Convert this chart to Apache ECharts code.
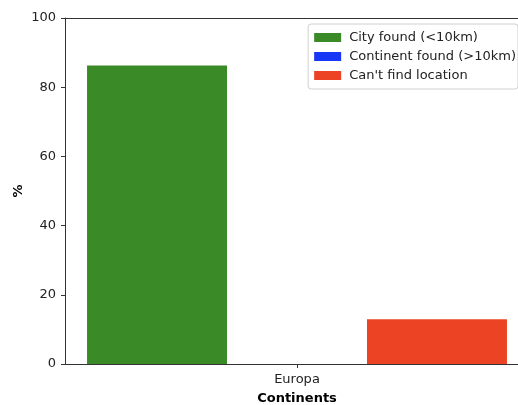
<!DOCTYPE html>
<html>
<head>
<meta charset="utf-8">
<script src="https://cdn.jsdelivr.net/npm/echarts@6/dist/echarts.min.js"></script>
<style>
  html, body { margin: 0; padding: 0; background: #fff; }
  #main { width: 518px; height: 405px; }
</style>
</head>
<body>
<div id="main"></div>
<script>
// data
const categories = ['Europa'];
const seriesNames = ['City found (<10km)', 'Continent found (>10km)', "Can't find location"];
const cityFound = [86.3];
const continentFound = [0];
const notFound = [12.9];
const colors = ['#3a8a28', '#1836f5', '#ec4324'];

const font = 'DejaVu Sans';
const myChart = echarts.init(document.getElementById('main'));

const mkSeries = (name, data, color) => ({
  name: name,
  type: 'bar',
  data: data,
  barGap: '0%',
  barCategoryGap: '9.5%',
  itemStyle: { color: color },
});

myChart.setOption({
  animation: false,
  textStyle: { fontFamily: font },
  grid: { left: 65, right: -11, top: 18, bottom: 41, containLabel: false, outerBoundsMode: 'none' },
  legend: {
    orient: 'vertical',
    right: 0,
    top: 24,
    itemWidth: 27,
    itemHeight: 9,
    itemGap: 6,
    padding: [7, 2, 7, 6],
    borderColor: '#d0d0d0',
    borderWidth: 1,
    borderRadius: 3,
    backgroundColor: '#fff',
    textStyle: { fontFamily: font, fontSize: 13, color: '#222', padding: [0, 0, 0, 3] },
    icon: 'rect',
    data: seriesNames,
  },
  xAxis: [{
    type: 'category',
    data: categories,
    name: 'Continents',
    nameLocation: 'middle',
    nameGap: 28,
    nameMoveOverlap: false,
    nameTextStyle: { fontFamily: font, fontSize: 13, fontWeight: 'bold', color: '#000' },
    axisLine: { lineStyle: { color: '#333', width: 1 } },
    axisTick: { show: true, alignWithLabel: true, length: 4, lineStyle: { color: '#333' } },
    axisLabel: { fontFamily: font, fontSize: 13, color: '#222', margin: 9 },
  }, {
    type: 'category',
    data: categories,
    position: 'top',
    axisLine: { show: true, lineStyle: { color: '#333', width: 1 } },
    axisTick: { show: false },
    axisLabel: { show: false },
  }],
  yAxis: {
    type: 'value',
    min: 0,
    max: 100,
    interval: 20,
    name: '%',
    nameLocation: 'middle',
    nameGap: 40,
    nameMoveOverlap: false,
    nameRotate: 90,
    nameTextStyle: { fontFamily: font, fontSize: 13, fontWeight: 'bold', color: '#000' },
    axisLine: { show: true, lineStyle: { color: '#333', width: 1 } },
    axisTick: { show: true, length: 4, lineStyle: { color: '#333' } },
    axisLabel: { fontFamily: font, fontSize: 13, color: '#222', margin: 9 },
    splitLine: { show: false },
  },
  series: [
    mkSeries(seriesNames[0], cityFound, colors[0]),
    mkSeries(seriesNames[1], continentFound, colors[1]),
    mkSeries(seriesNames[2], notFound, colors[2]),
  ],
});
</script>
</body>
</html>
